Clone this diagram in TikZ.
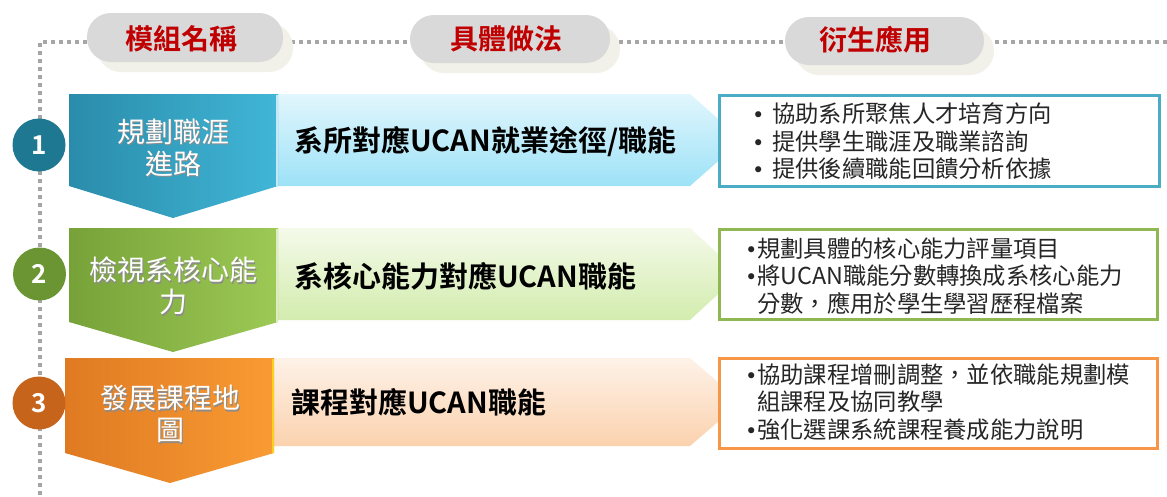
\documentclass[tikz,border=0pt]{standalone}
\usepackage{fontspec}
\setmainfont{Noto Sans CJK TC}[BoldFont={Noto Sans CJK TC Bold}]
\newfontfamily\bulletfont{DejaVu Sans}
\newcommand{\bul}[1]{\makebox[#1][l]{\bulletfont\fontsize{21}{21}\selectfont •}}
\definecolor{guidegray}{HTML}{A6A6A6}
\definecolor{pillgray}{HTML}{D9D9D9}
\definecolor{pillshade}{HTML}{F1F0E9}
\definecolor{headred}{HTML}{C00000}
\definecolor{tealA}{HTML}{2A8CAA}
\definecolor{tealB}{HTML}{41B6D7}
\definecolor{tealC}{HTML}{1F7892}
\definecolor{tealBox}{HTML}{4BACC6}
\definecolor{cyanTop}{HTML}{E2F6FD}
\definecolor{cyanBot}{HTML}{9DE2F7}
\definecolor{greenA}{HTML}{77A239}
\definecolor{greenB}{HTML}{9DC955}
\definecolor{greenC}{HTML}{6A9532}
\definecolor{greenBox}{HTML}{8FB752}
\definecolor{limeTop}{HTML}{F4FAEA}
\definecolor{limeBot}{HTML}{D3ECAE}
\definecolor{orangeA}{HTML}{DF7A22}
\definecolor{orangeB}{HTML}{F99B33}
\definecolor{orangeC}{HTML}{C6641C}
\definecolor{orangeBox}{HTML}{F79646}
\definecolor{peachTop}{HTML}{FEF2E8}
\definecolor{peachBot}{HTML}{FBD2AE}
\begin{document}
\begin{tikzpicture}[x=1pt,y=-1pt,
  guide/.style={draw=guidegray,line width=3.5pt,dash pattern=on 4pt off 4pt},
  pill/.style={fill=pillgray,rounded corners=24pt},
  pillshadow/.style={fill=pillshade,rounded corners=24pt},
  headtext/.style={text=headred,font=\fontsize{28}{30}\selectfont\bfseries,inner sep=0pt},
  modtext/.style={text=white,font=\fontsize{28}{32}\selectfont,align=center,inner sep=0pt},
  modshadow/.style={text=black!45,font=\fontsize{28}{32}\selectfont,align=center,inner sep=0pt},
  methtext/.style={text=black,font=\fontsize{29}{32}\selectfont\bfseries,anchor=west,inner sep=0pt},
  numcircle/.style={circle,minimum size=53pt,inner sep=0pt,text=white,font=\fontsize{26}{26}\selectfont\bfseries},
  appbox/.style={fill=white,line width=3pt},
  apptext/.style={text=black!85,font=\fontsize{23.3}{27.5}\selectfont,anchor=west,align=left,inner sep=0pt}
]
\useasboundingbox (0,0) rectangle (1167,496);
\fill[white] (0,0) rectangle (1167,496);

% guide lines
\coordinate (gc) at (40,42);
\coordinate (gr) at (1167,42);
\coordinate (gb) at (40,496);
\draw[guide] (gr) -- (gc) -- (gb);

% header pills
\fill[pillshadow] (97,23) rectangle (293,72);
\fill[pill] (87,13) rectangle (283,62);
\node[headtext] (h1) at (181,39) {模組名稱};
\fill[pillshadow] (420,25) rectangle (620,73);
\fill[pill] (410,15) rectangle (610,63);
\node[headtext] (h2) at (506,39) {具體做法};
\fill[pillshadow] (795,27) rectangle (994,75);
\fill[pill] (785,17) rectangle (984,65);
\node[headtext] (h3) at (875,40) {衍生應用};

% ---------- row 1
\shade[top color=cyanTop,bottom color=cyanBot] (278,94) -- (690,94) -- (742,140) -- (690,186) -- (278,186) -- cycle;
\shade[left color=tealA,right color=tealB] (69,94) -- (278,94) -- (278,186) -- (173,218) -- (69,186) -- cycle;
\draw[white!70!tealB,line width=1.5pt] (277,95) -- (277,186);
\node[modshadow] at (174.5,149) {規劃職涯\\進路};
\node[modtext] (m1) at (173,147.5) {規劃職涯\\進路};
\node[methtext] (a1) at (294,142) {系所對應UCAN就業途徑/職能};
\node[numcircle,fill=tealC] (c1) at (39,145) {1};
\draw[appbox,draw=tealBox] (719,95) rectangle (1159,186);
\node[apptext] (t1) at (752,141.5) {\bul{20pt}協助系所聚焦人才培育方向\\\bul{20pt}提供學生職涯及職業諮詢\\\bul{20pt}提供後續職能回饋分析依據};

% ---------- row 2
\shade[top color=limeTop,bottom color=limeBot] (278,228) -- (690,228) -- (740,274) -- (690,320) -- (278,320) -- cycle;
\shade[left color=greenA,right color=greenB] (69,228) -- (278,228) -- (278,322) -- (173,352) -- (69,322) -- cycle;
\draw[white!65!greenB,line width=1.5pt] (277,229) -- (277,322);
\node[modshadow] at (174.5,287.5) {檢視系核心能\\力};
\node[modtext] (m2) at (173,286) {檢視系核心能\\力};
\node[methtext] (a2) at (294,276) {系核心能力對應UCAN職能};
\node[numcircle,fill=greenC] (c2) at (39.5,274) {2};
\draw[appbox,draw=greenBox] (719,229) rectangle (1157,319);
\node[apptext] (t2) at (745,276) {\bul{12pt}規劃具體的核心能力評量項目\\\bul{12pt}將UCAN職能分數轉換成系核心能力\\\hspace*{12pt}分數，應用於學生學習歷程檔案};

% ---------- row 3
\shade[top color=peachTop,bottom color=peachBot] (274,358) -- (690,358) -- (741,402) -- (690,446) -- (274,446) -- cycle;
\shade[left color=orangeA,right color=orangeB] (65,358) -- (274,358) -- (274,453) -- (170,483) -- (65,453) -- cycle;
\draw[yellow!60!orangeB,line width=2pt] (273,359) -- (273,453);
\node[modshadow] at (171.5,415.5) {發展課程地\\圖};
\node[modtext] (m3) at (170,414) {發展課程地\\圖};
\node[methtext] (a3) at (291,402) {課程對應UCAN職能};
\node[numcircle,fill=orangeC] (c3) at (39,403) {3};
\draw[appbox,draw=orangeBox] (719,358) rectangle (1157,448);
\node[apptext] (t3) at (745,402) {\bul{12pt}協助課程增刪調整，並依職能規劃模\\\hspace*{12pt}組課程及協同教學\\\bul{12pt}強化選課系統課程養成能力說明};
\end{tikzpicture}
\end{document}
